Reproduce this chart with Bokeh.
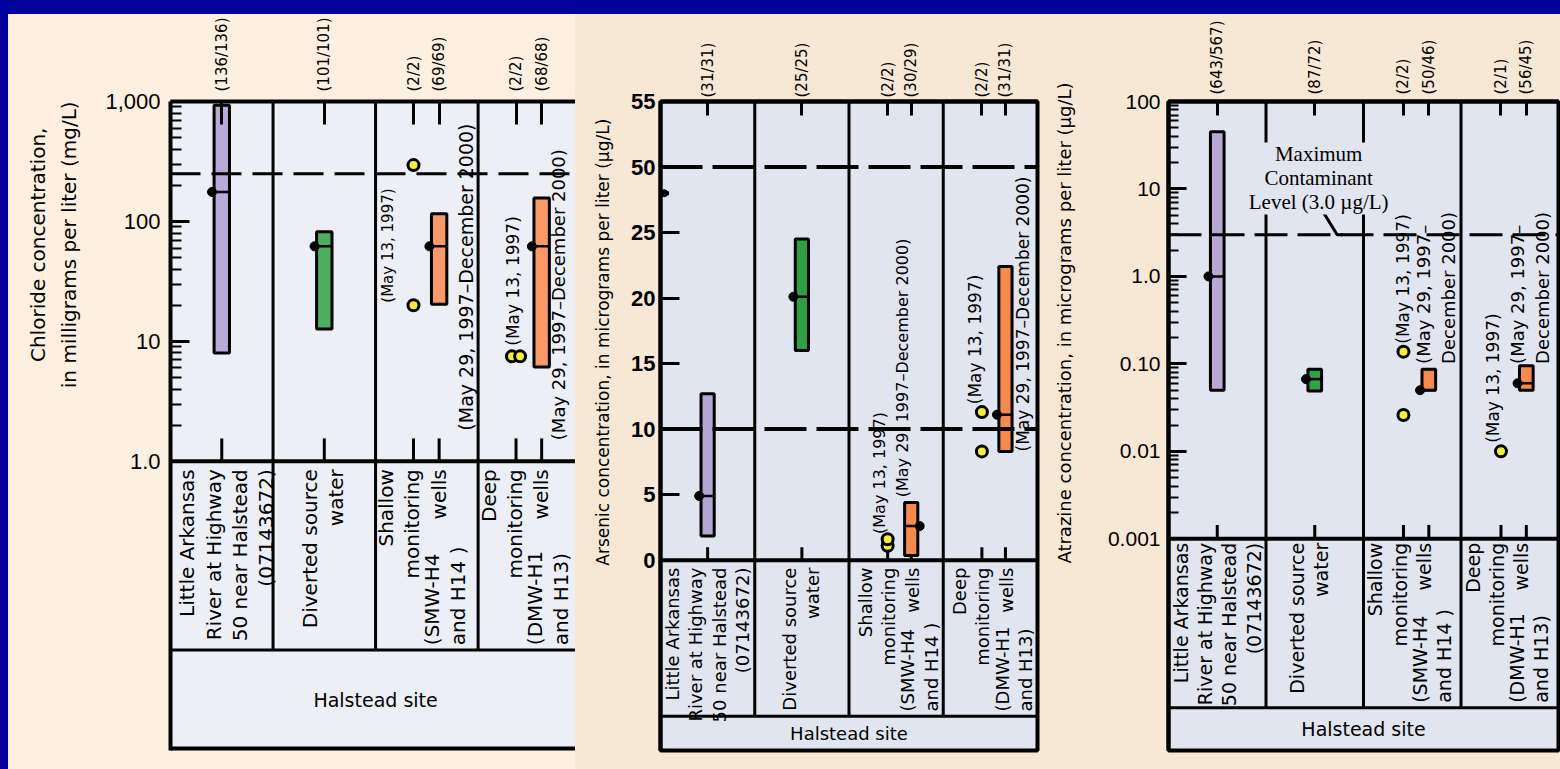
import math
from bokeh.plotting import figure
from bokeh.layouts import row, column
from bokeh.models import Range1d, LinearAxis, FixedTicker, Label, Spacer, LinearScale
from bokeh.core.properties import value
from bokeh.embed import file_html
from bokeh.resources import INLINE

# ------------------------------------------------------------------ data
site_names = ["Little Arkansas\nRiver at Highway\n50 near Halstead\n(07143672)",
              "Diverted source\nwater",
              "Shallow\nmonitoring\nwells",
              "Deep\nmonitoring\nwells"]
site_wells = ["", "", "(SMW-H4\nand H14 )", "(DMW-H1\nand H13)"]
site_group = "Halstead site"
note_first = "(May 13, 1997)"
note_period = "(May 29, 1997\u2013December 2000)"
note_period_2 = "(May 29, 1997\u2013\nDecember 2000)"

# Chloride, mg/L (log scale)
chl_box_low = [8.0, 12.7, 20.4, 6.1]
chl_box_high = [930.0, 82.0, 116.0, 157.0]
chl_box_median = [176.0, 62.0, 62.0, 62.0]
chl_box_counts = ["(136/136)", "(101/101)", "(69/69)", "(68/68)"]
chl_point_site = [2, 2, 3, 3]
chl_point_value = [295.0, 20.0, 7.5, 7.5]
chl_point_counts = ["", "", "(2/2)", "(2/2)"]
chl_limits = [250.0]
chl_ticks = [1, 10, 100, 1000]
chl_tick_labels = ["1.0", "10", "100", "1,000"]
chl_title = ["Chloride concentration,", "in milligrams per liter (mg/L)"]

# Arsenic, ug/L (broken linear scale: 0-25, then 50-55)
ars_box_low = [1.85, 16.0, 0.35, 8.3]
ars_box_high = [12.7, 24.5, 4.4, 22.4]
ars_box_median = [4.9, 20.1, 2.6, 11.1]
ars_box_counts = ["(31/31)", "(25/25)", "(30/29)", "(31/31)"]
ars_point_site = [2, 2, 3, 3]
ars_point_value = [1.1, 1.6, 11.3, 8.3]
ars_point_counts = ["", "", "(2/2)", "(2/2)"]
ars_limits = [50.0, 10.0]
ars_ticks = [0, 5, 10, 15, 20, 25, 50, 55]
ars_tick_labels = ["0", "5", "10", "15", "20", "25", "50", "55"]
ars_title = ["Arsenic concentration, in micrograms per liter (\u00b5g/L)"]
ARS_GAP = 20.0          # values above the axis break are drawn shifted down by this amount


def ars_pos(v):
    return v - ARS_GAP if v >= 30 else v


# Atrazine, ug/L (log scale)
atr_box_low = [0.050, 0.049, 0.050, 0.050]
atr_box_high = [45.0, 0.087, 0.087, 0.095]
atr_box_median = [1.0, 0.067, 0.050, 0.060]
atr_box_counts = ["(643/567)", "(87/72)", "(50/46)", "(56/45)"]
atr_point_site = [2, 2, 3]
atr_point_value = [0.138, 0.026, 0.010]
atr_point_counts = ["", "", "(2/2)", "(2/1)"]
atr_limits = [3.0]
atr_ticks = [0.001, 0.01, 0.1, 1, 10, 100]
atr_tick_labels = ["0.001", "0.01", "0.10", "1.0", "10", "100"]
atr_title = ["Atrazine concentration, in micrograms per liter (\u00b5g/L)"]
atr_limit_label = "Maximum\nContaminant\nLevel (3.0 \u00b5g/L)"

# ------------------------------------------------------------------ layout / style
BLUE = "#01019B"
PAGE_H = 769
PANEL_TOP = 14
YELLOW = "#F4EE3A"
SANS = "DejaVu Sans"
NBSP_EM = 0.318          # advance width of a no-break space in DejaVu Sans
FRAME_W = 4


def log_minors(lo_exp, hi_exp):
    return [k * 10.0 ** e for e in range(lo_exp, hi_exp) for k in range(2, 10)]


panels = [
    dict(x0=8, w=567, fl=170, fr=575, ft=100, db=462, ht=652, tb=753, xend=395, right=False,
         log=True, yr=(1, 1000), pos=lambda v: v,
         ticks=chl_ticks, tick_labels=chl_tick_labels, minor=log_minors(0, 3),
         title=chl_title, title_size=20, title_center=245, title_standoff=21, title_lh=1.3,
         tick_font="Liberation Sans", tick_size=22, tick_style="normal", tick_standoff=10,
         ytick=19, ymtick=11, stick=23, count_standoff=10,
         bg="#FDF0E1", plot_bg="#ECEFF6", colors=["#B9AAD8", "#4BAF5E", "#F9996A", "#F9996A"],
         low=chl_box_low, high=chl_box_high, med=chl_box_median, bcount=chl_box_counts,
         psite=chl_point_site, pval=chl_point_value, pcount=chl_point_counts, limits=chl_limits,
         sub=(37, 62), hw=7.5, dodge=[0, 0, -4, 4], dash="30 11", dash_w=3,
         med_side=[-1, -1, -1, -1],
         notes=[(212, 21, note_first, 15), (288, 1.8, note_period, 19),
                (334, 9.2, note_first, 17), (378, 1.5, note_period, 18)],
         cat_font=20, cat_lh=1.1, c1=[55, 49], cA=36, cB=68, pad_top=8, pad_bot=5, hal_size=19),
    dict(x0=575, w=465, fl=660, fr=1037, ft=68, db=562, ht=730, tb=767, xend=400, right=True,
         log=False, yr=(0, 35), pos=ars_pos,
         ticks=ars_ticks, tick_labels=ars_tick_labels, minor=[],
         title=ars_title, title_size=17, title_center=335, title_standoff=15, title_lh=1.2,
         tick_font="Liberation Sans", tick_size=22, tick_style="bold", tick_standoff=5,
         ytick=19, ymtick=0, stick=14, count_standoff=4,
         bg="#F7E7D5", plot_bg="#E1E5EF", colors=["#B3A6D2", "#2F9E44", "#F58A4E", "#F58A4E"],
         low=ars_box_low, high=ars_box_high, med=ars_box_median, bcount=ars_box_counts,
         psite=ars_point_site, pval=ars_point_value, pcount=ars_point_counts, limits=ars_limits,
         sub=(41, 66), hw=7.0, dodge=[0, 0, 0, 0], dash="42 10", dash_w=4,
         med_side=[-1, -1, 1, -1],
         notes=[(232, 2.0, note_first, 16), (257, 4.8, note_period, 16),
                (334, 11.9, note_first, 17), (385, 8.3, note_period, 17)],
         cat_font=18, cat_lh=1.12, c1=[50, 49], cA=42, cB=75, pad_top=8, pad_bot=5, hal_size=18),
    dict(x0=1040, w=520, fl=1168, fr=1558, ft=97, db=537, ht=707, tb=750, xend=400, right=True,
         log=True, yr=(0.001, 100), pos=lambda v: v,
         ticks=atr_ticks, tick_labels=atr_tick_labels, minor=log_minors(-3, 2),
         title=atr_title, title_size=18, title_center=320, title_standoff=30, title_lh=1.2,
         tick_font="Liberation Sans", tick_size=21, tick_style="normal", tick_standoff=8,
         ytick=18, ymtick=10, stick=14, count_standoff=7,
         bg="#F7E7D5", plot_bg="#E1E5EF", colors=["#B7A8D4", "#30A24A", "#F58A4E", "#F58A4E"],
         low=atr_box_low, high=atr_box_high, med=atr_box_median, bcount=atr_box_counts,
         psite=atr_point_site, pval=atr_point_value, pcount=atr_point_counts, limits=atr_limits,
         sub=(41, 67), hw=7.0, dodge=[0, 0, 0], dash="33 10", dash_w=3,
         med_side=[-1, -1, -1, -1],
         notes=[(240, 0.17, note_first, 17), (274, 0.1, note_period_2, 18),
                (333, 0.0125, note_first, 17), (371, 0.1, note_period_2, 18)],
         cat_font=19, cat_lh=1.1, c1=[50, 44], cA=37, cB=70, pad_top=4, pad_bot=5, hal_size=19),
]


def build(P, idx):
    pos = P["pos"]
    xend = P["xend"]
    ylo, yhi = P["yr"]
    F = P["tb"] - P["ft"]          # frame height (data + table), px
    D = P["db"] - P["ft"]          # data part, px
    T = P["tb"] - P["db"]          # table part, px
    hh = P["tb"] - P["ht"]         # "Halstead site" row, px
    if P["log"]:
        dec = math.log10(yhi / ylo)
        ystart = ylo / 10 ** (dec * T / D)
    else:
        ystart = ylo - (yhi - ylo) * T / D
    seps = [100, 200, 300]

    p = figure(width=P["w"], height=PAGE_H - PANEL_TOP,
               x_range=Range1d(0, xend), y_range=Range1d(ystart, yhi),
               y_axis_type="log" if P["log"] else "linear", x_axis_location=None,
               output_backend="svg", toolbar_location=None,
               min_border_left=P["fl"] - P["x0"], min_border_right=P["x0"] + P["w"] - P["fr"],
               min_border_top=P["ft"] - PANEL_TOP, min_border_bottom=PAGE_H - P["tb"],
               background_fill_color=P["plot_bg"], border_fill_color=P["bg"],
               outline_line_color="black" if P["right"] else None, outline_line_width=FRAME_W)
    p.extra_y_ranges = {"px": Range1d(0, F)}
    p.extra_y_scales = {"px": LinearScale()}
    for g in p.grid:
        g.visible = False

    # --- y axis
    ya = p.yaxis[0]
    tpos = [pos(t) for t in P["ticks"]]
    ya.ticker = FixedTicker(ticks=tpos, minor_ticks=P["minor"])
    ya.major_label_overrides = {t: s for t, s in zip(tpos, P["tick_labels"])}
    ya.axis_line_width = FRAME_W
    ya.major_tick_in = P["ytick"]
    ya.major_tick_out = 0
    ya.major_tick_line_width = 3
    ya.minor_tick_in = P["ymtick"]
    ya.minor_tick_out = 0
    ya.minor_tick_line_width = 2
    ya.major_label_text_font = P["tick_font"]
    ya.major_label_text_font_size = f"{P['tick_size']}px"
    ya.major_label_text_font_style = P["tick_style"]
    ya.major_label_text_color = "black"
    ya.major_label_standoff = P["tick_standoff"]
    # axis title: the axis centres it on the whole frame (data + site table); lead it
    # with no-break spaces so that it sits centred on the data part as in the original
    shift = (P["ft"] + P["tb"]) / 2 - P["title_center"]
    n_pad = max(0, round(2 * shift / (NBSP_EM * P["title_size"])))
    ya.axis_label = "\n".join("\u00a0" * n_pad + line for line in P["title"])
    ya.axis_label_text_font = SANS
    ya.axis_label_text_font_size = f"{P['title_size']}px"
    ya.axis_label_text_font_style = "normal"
    ya.axis_label_text_color = "black"
    ya.axis_label_text_line_height = P["title_lh"]
    ya.axis_label_standoff = P["title_standoff"]

    # --- sample positions
    has_pts = set(P["psite"])
    sub_pt, sub_box = P["sub"]
    bx = [c * 100 + (sub_box if c in has_pts else 50) for c in range(4)]
    px = [s * 100 + sub_pt + d for s, d in zip(P["psite"], P["dodge"])]
    tick_x, tick_lab = [], {}
    for c in range(4):
        tick_x.append(bx[c])
        tick_lab[bx[c]] = P["bcount"][c]
        if P["pcount"][c]:
            xp = c * 100 + sub_pt
            tick_x.append(xp)
            tick_lab[xp] = P["pcount"][c]
    tick_x = sorted(tick_x)

    top = LinearAxis(ticker=FixedTicker(ticks=tick_x, minor_ticks=[]),
                     major_label_overrides=tick_lab, major_label_orientation=math.pi / 2,
                     axis_line_width=FRAME_W, major_tick_in=P["stick"], major_tick_out=0,
                     major_tick_line_width=3, minor_tick_in=0, minor_tick_out=0,
                     major_label_standoff=P["count_standoff"], major_label_text_font=SANS,
                     major_label_text_font_size="15px", major_label_text_color="black")
    p.add_layout(top, "above")

    # --- frame lines: separators, data/table boundary, bottom ticks
    p.segment(x0=seps, y0=[hh] * 3, x1=seps, y1=[F] * 3, y_range_name="px",
              line_color="black", line_width=3)
    p.segment(x0=[0], y0=[T], x1=[xend], y1=[T], y_range_name="px",
              line_color="black", line_width=FRAME_W)
    p.segment(x0=[0], y0=[hh], x1=[xend], y1=[hh], y_range_name="px",
              line_color="black", line_width=3)
    p.segment(x0=tick_x, y0=[T] * len(tick_x), x1=tick_x, y1=[T + P["stick"]] * len(tick_x),
              y_range_name="px", line_color="black", line_width=3)
    if not P["right"]:
        p.segment(x0=[0], y0=[0], x1=[xend], y1=[0], y_range_name="px",
                  line_color="black", line_width=2 * FRAME_W)

    hw = P["hw"]
    # --- boxes
    p.quad(left=[x - hw for x in bx], right=[x + hw for x in bx],
           bottom=[pos(v) for v in P["low"]], top=[pos(v) for v in P["high"]],
           fill_color=P["colors"], line_color="black", line_width=3)

    # --- limit lines
    for lim in P["limits"]:
        p.segment(x0=[0], y0=[pos(lim)], x1=[xend], y1=[pos(lim)], line_color="black",
                  line_width=P["dash_w"], line_dash=P["dash"])

    # --- medians
    med = [pos(v) for v in P["med"]]
    p.segment(x0=[x - hw for x in bx], y0=med, x1=[x + hw for x in bx], y1=med,
              line_color="black", line_width=2.5)
    p.scatter(x=[x + s * (hw + 2) for x, s in zip(bx, P["med_side"])], y=med, size=9,
              marker="circle", fill_color="black", line_color="black")

    # --- single samples
    p.scatter(x=px, y=[pos(v) for v in P["pval"]], size=11, marker="circle",
              fill_color=YELLOW, line_color="black", line_width=3)

    # --- notes
    for nx, ny, txt, fs in P["notes"]:
        p.text(x=[nx], y=[pos(ny)], text=[txt], angle=math.pi / 2, text_align="left",
               text_baseline="middle", text_font=value(SANS), text_font_size=value(f"{fs}px"),
               text_color="black", text_line_height=1.2)

    if idx == 1:
        brk = 28   # axis break mark between 25 and 50
        p.segment(x0=[0], y0=[brk], x1=[9], y1=[brk], line_color="black", line_width=4)
        p.scatter(x=[4], y=[brk], size=7, marker="circle", fill_color="black", line_color="black")
    if idx == 2:
        p.line(x=[151, 173, 179], y=[7.5, 3.0, 3.0], line_color="black", line_width=3)
        p.add_layout(Label(x=154, y=34, text=atr_limit_label, text_align="center",
                           text_baseline="top", text_font="Liberation Serif",
                           text_font_size="21px", text_color="black", text_line_height=1.0,
                           background_fill_color=P["plot_bg"]))

    # --- site table
    cf = value(f"{P['cat_font']}px")
    common = dict(angle=math.pi / 2, text_baseline="middle", text_font=value(SANS),
                  text_font_size=cf, text_line_height=P["cat_lh"], text_color="black",
                  y_range_name="px")
    for c in range(4):
        if site_wells[c]:
            p.text(x=[c * 100 + P["cA"]], y=[T - P["pad_top"]], text=[site_names[c]],
                   text_align="right", **common)
            p.text(x=[c * 100 + P["cB"]], y=[hh + P["pad_bot"]], text=[site_wells[c]],
                   text_align="left", **common)
        else:
            p.text(x=[c * 100 + P["c1"][c]], y=[T - P["pad_top"]], text=[site_names[c]],
                   text_align="right", **common)
    p.text(x=[200], y=[hh / 2], text=[site_group], text_align="center", text_baseline="middle",
           text_font=value(SANS), text_font_size=value(f"{P['hal_size']}px"), text_color="black",
           y_range_name="px")
    return p


layout = column(Spacer(width=1560, height=PANEL_TOP),
                row(Spacer(width=8, height=PAGE_H - PANEL_TOP, styles={"background-color": BLUE}),
                    *[build(P, i) for i, P in enumerate(panels)],
                    styles={"background-color": panels[1]["bg"]}))

html = file_html(layout, INLINE, title="Halstead site: chloride, arsenic and atrazine")
html = html.replace("<head>",
                    "<head><style>html, body { margin: 0; padding: 0; background: %s; overflow: hidden; }</style>" % BLUE,
                    1)
open("out.html", "w").write(html)
